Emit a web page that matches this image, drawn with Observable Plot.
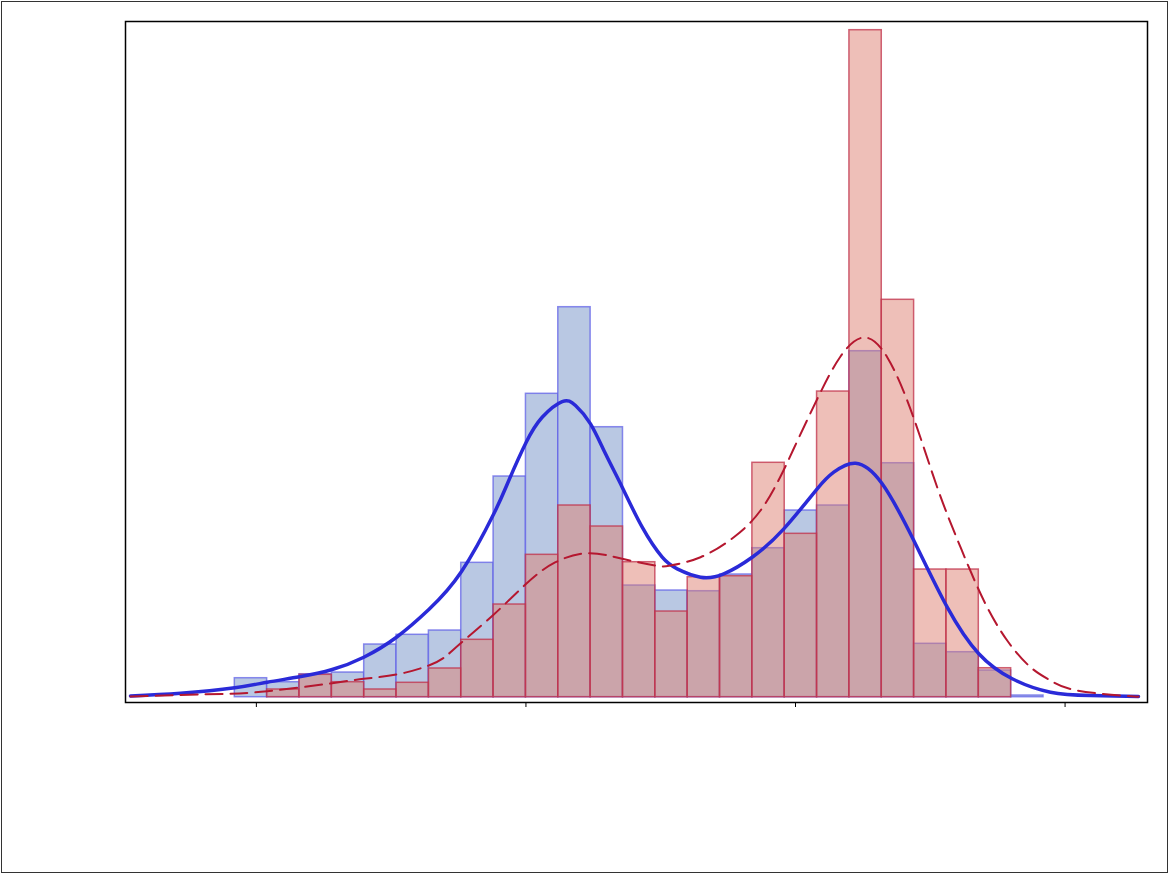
<!DOCTYPE html>
<html><head><meta charset="utf-8">
<script src="https://cdn.jsdelivr.net/npm/d3@7"></script>
<script src="https://cdn.jsdelivr.net/npm/@observablehq/plot@0.6"></script>
<style>
html,body{margin:0;padding:0;background:#fff;}
#wrap{position:relative;width:1168px;height:873px;overflow:hidden;background:#fff;}
#border{position:absolute;left:1px;top:1px;width:1167px;height:872px;box-sizing:border-box;border:1.5px solid #333;pointer-events:none;}
</style></head><body><div id="wrap"><div id="chart"></div><div id="border"></div></div>
<script>
// Histogram bins (shared by both groups)
const binStart = 1.92;
const binWidth = 0.12;
// Blue group: density per bin (25 bins)
const blueDensity = [0.0485, 0.0383, 0.0587, 0.0630, 0.1345, 0.1593, 0.1702, 0.3430, 0.5633, 0.7744,
  0.9954, 0.6891, 0.2851, 0.2723, 0.2705, 0.3132, 0.3803, 0.4765, 0.4893, 0.8831,
  0.5972, 0.1363, 0.1149, 0.0681, 0.0043];
// Red group: density per bin (24 bins)
const redDensity = [0, 0.0197, 0.0572, 0.0383, 0.0197, 0.0368, 0.0733, 0.1465, 0.2366, 0.3634,
  0.4893, 0.4357, 0.3446, 0.2187, 0.3063, 0.3088, 0.5983, 0.4170, 0.7802, 1.7024,
  1.0143, 0.3259, 0.3259, 0.0740];
// Density curves
const blueCurveX = [1.533, 1.719, 1.92, 2.0402, 2.16, 2.2813, 2.3985, 2.5198, 2.6397, 2.761, 2.8808,
  2.9364, 3.001, 3.0603, 3.1345, 3.1839, 3.2395, 3.2952, 3.3571, 3.4313, 3.5055,
  3.5611, 3.6476, 3.734, 3.8394, 3.9566, 4.0805, 4.142, 4.2226, 4.3216, 4.4388,
  4.5627, 4.68, 4.8039, 4.9459, 5.0943, 5.2724];
const blueCurveY = [0.0031, 0.0100, 0.0240, 0.0383, 0.0521, 0.0706, 0.1021, 0.1531, 0.2238, 0.3208, 0.4681,
  0.5531, 0.6508, 0.7146, 0.7547, 0.7445, 0.6978, 0.6212, 0.5360, 0.4339, 0.3573,
  0.3277, 0.3063, 0.3149, 0.3573, 0.4298, 0.5319, 0.5743, 0.5972, 0.5447, 0.3999,
  0.2297, 0.1108, 0.0470, 0.0128, 0.0043, 0.0018];
const redCurveX = [1.533, 1.719, 1.8855, 2.0402, 2.2813, 2.3985, 2.5198, 2.6397, 2.7016, 2.761, 2.8808,
  3.001, 3.1097, 3.2332, 3.3571, 3.4806, 3.5363, 3.6476, 3.7711, 3.8702, 3.9443,
  3.9937, 4.0816, 4.1669, 4.2534, 4.3402, 4.4329, 4.5256, 4.6121, 4.6985, 4.7853,
  4.8718, 4.9459, 5.045, 5.2304, 5.2724];
const redCurveY = [0.0018, 0.0056, 0.0087, 0.0153, 0.0357, 0.0470, 0.0579, 0.0809, 0.1039, 0.1396, 0.2111,
  0.2894, 0.3446, 0.3675, 0.3532, 0.3361, 0.3361, 0.3573, 0.4084, 0.4765, 0.5633,
  0.6348, 0.7624, 0.8696, 0.9180, 0.8678, 0.7233, 0.5360, 0.3828, 0.2468, 0.1447,
  0.0766, 0.0426, 0.0171, 0.0031, 0.0018];
const xTicks = [2, 3, 4, 5];

const bins = (arr) => arr.map((v, i) => ({x1: binStart + i * binWidth, x2: binStart + (i + 1) * binWidth, y: v})).filter(d => d.y > 0);
const blueBars = bins(blueDensity);
const redBars = bins(redDensity);
const blueCurve = blueCurveX.map((x, i) => ({x, y: blueCurveY[i]}));
const redCurve = redCurveX.map((x, i) => ({x, y: redCurveY[i]}));

const chart = Plot.plot({
  width: 1168,
  height: 873,
  marginLeft: 125,
  marginRight: 21,
  marginTop: 21,
  marginBottom: 171,
  style: {background: "transparent", overflow: "visible"},
  x: {domain: [1.5145, 5.3058]},
  y: {domain: [-0.0135, 1.7246], axis: null},
  marks: [
    Plot.rectY(blueBars, {x1: "x1", x2: "x2", y1: 0, y2: "y", fill: "#b9c8e3", stroke: "#5e5ee8", strokeOpacity: 0.72, strokeWidth: 1.5}),
    Plot.rectY(redBars, {x1: "x1", x2: "x2", y1: 0, y2: "y", fill: "#dd7f71", fillOpacity: 0.5, stroke: "#c0304a", strokeOpacity: 0.75, strokeWidth: 1.5}),
    Plot.line(blueCurve, {x: "x", y: "y", stroke: "#2a2ad8", strokeWidth: 3.5, curve: "natural"}),
    Plot.line(redCurve, {x: "x", y: "y", stroke: "#b5172f", strokeWidth: 2, strokeDasharray: "17,8", curve: "natural"}),
    Plot.frame({stroke: "black", strokeWidth: 1.5}),
    Plot.axisX({ticks: xTicks, tickFormat: () => "", tickSize: 5, stroke: "black", label: null})
  ]
});
document.getElementById("chart").appendChild(chart);
</script>
</body></html>
